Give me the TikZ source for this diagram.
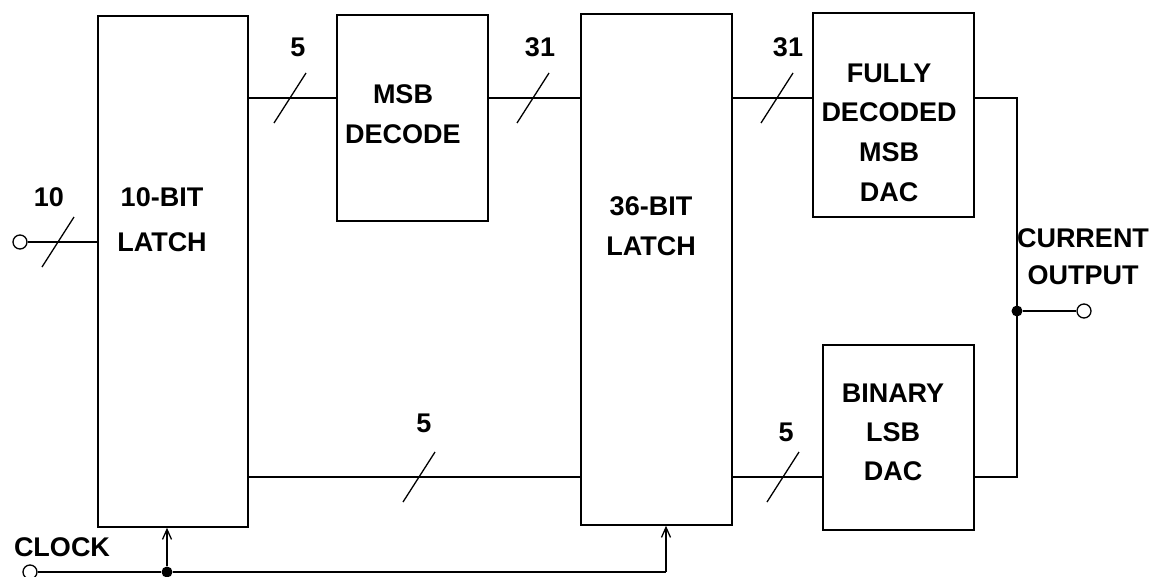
\documentclass[tikz,border=0pt]{standalone}
\usepackage{fontspec}
\setmainfont{Liberation Sans}
\usetikzlibrary{arrows.meta,calc}
\begin{document}
\begin{tikzpicture}[x=1pt,y=-1pt,
  blk/.style={draw, line width=1.6pt, inner sep=0pt},
  wire/.style={line width=1.5pt},
  bus/.style={line width=1.3pt},
  lbl/.style={font=\fontsize{27}{40}\selectfont\bfseries, align=center, inner sep=0pt},
  mlbl/.style={lbl, anchor=north, font=\fontsize{27}{#1}\selectfont\bfseries},
  term/.style={circle, draw, fill=white, line width=1.3pt, minimum size=14pt, inner sep=0pt},
  jdot/.style={circle, fill=black, minimum size=11pt, inner sep=0pt},
  clkarrow/.style={wire, -{Straight Barb[length=10pt,width=9pt,line width=1.3pt]}}
]
\useasboundingbox (0,0) rectangle (1151,576);
\fill[white] (0,0) rectangle (1151,576);

% blocks
\node[blk, minimum width=150pt, minimum height=511pt] (la) at (173,271.5) {};
\node[blk, minimum width=151pt, minimum height=206pt] (md) at (412.5,118) {};
\node[blk, minimum width=151pt, minimum height=511pt] (lb) at (656.5,269.5) {};
\node[blk, minimum width=161pt, minimum height=204pt] (fd) at (893.5,115) {};
\node[blk, minimum width=151pt, minimum height=185pt] (ls) at (898.5,437.5) {};

% block texts (north = top of first line's capitals)
\node[mlbl=45] (tla) at (162,187.5) {10-BIT\\LATCH};
\node[mlbl=40] (tmd) at (403,84.5) {MSB\\DECODE};
\node[mlbl=40] (tlb) at (651,196.5) {36-BIT\\LATCH};
\node[mlbl=39.7] (tfd) at (889,63.5) {FULLY\\DECODED\\MSB\\DAC};
\node[mlbl=39] (tls) at (893,383.5) {BINARY\\LSB\\DAC};

% level coordinates
\coordinate (r1) at (0,98);
\coordinate (r2) at (0,477);
\coordinate (rin) at (0,242);

% input
\node[term] (din) at (20,242) {};
\draw[wire] (din.east) -- (la.west |- rin);
\draw[bus] (58,242) +(-16,25) -- +(16,-25);
\node[lbl] (n10) at (49,197) {10};

% top row
\draw[wire] (la.east |- r1) -- (md.west |- r1);
\draw[bus] (290,98) +(-16,25) -- +(16,-25);
\node[lbl] (n5a) at (298,47) {5};

\draw[wire] (md.east |- r1) -- (lb.west |- r1);
\draw[bus] (533,98) +(-16,25) -- +(16,-25);
\node[lbl] (n31a) at (540,47) {31};

\draw[wire] (lb.east |- r1) -- (fd.west |- r1);
\draw[bus] (777,98) +(-16,25) -- +(16,-25);
\node[lbl] (n31b) at (788,47) {31};

% bottom row
\draw[wire] (la.east |- r2) -- (lb.west |- r2);
\draw[bus] (419,477) +(-16,25) -- +(16,-25);
\node[lbl] (n5b) at (424,423) {5};

\draw[wire] (lb.east |- r2) -- (ls.west |- r2);
\draw[bus] (783,477) +(-16,25) -- +(16,-25);
\node[lbl] (n5c) at (786,432) {5};

% output summing
\coordinate (otop) at (1017,98);
\coordinate (obot) at (1017,477);
\draw[wire] (fd.east |- r1) -- (otop) -- (obot) -- (ls.east |- r2);
\node[jdot] (oj) at (1017,311) {};
\node[term] (oc) at (1084,311) {};
\draw[wire] (oj) -- (oc.west);
\node[mlbl=37] (tout) at (1083,228.5) {CURRENT\\OUTPUT};

% clock
\node[term] (clk) at (30,572) {};
\node[jdot] (cj) at (167,572) {};
\coordinate (ce) at (666,572);
\draw[wire] (clk.east) -- (cj) -- (ce);
\draw[clkarrow] (cj) -- (la.south -| cj);
\draw[clkarrow] (ce) -- (lb.south -| ce);
\node[lbl] (tclk) at (62,547) {CLOCK};
\end{tikzpicture}
\end{document}
